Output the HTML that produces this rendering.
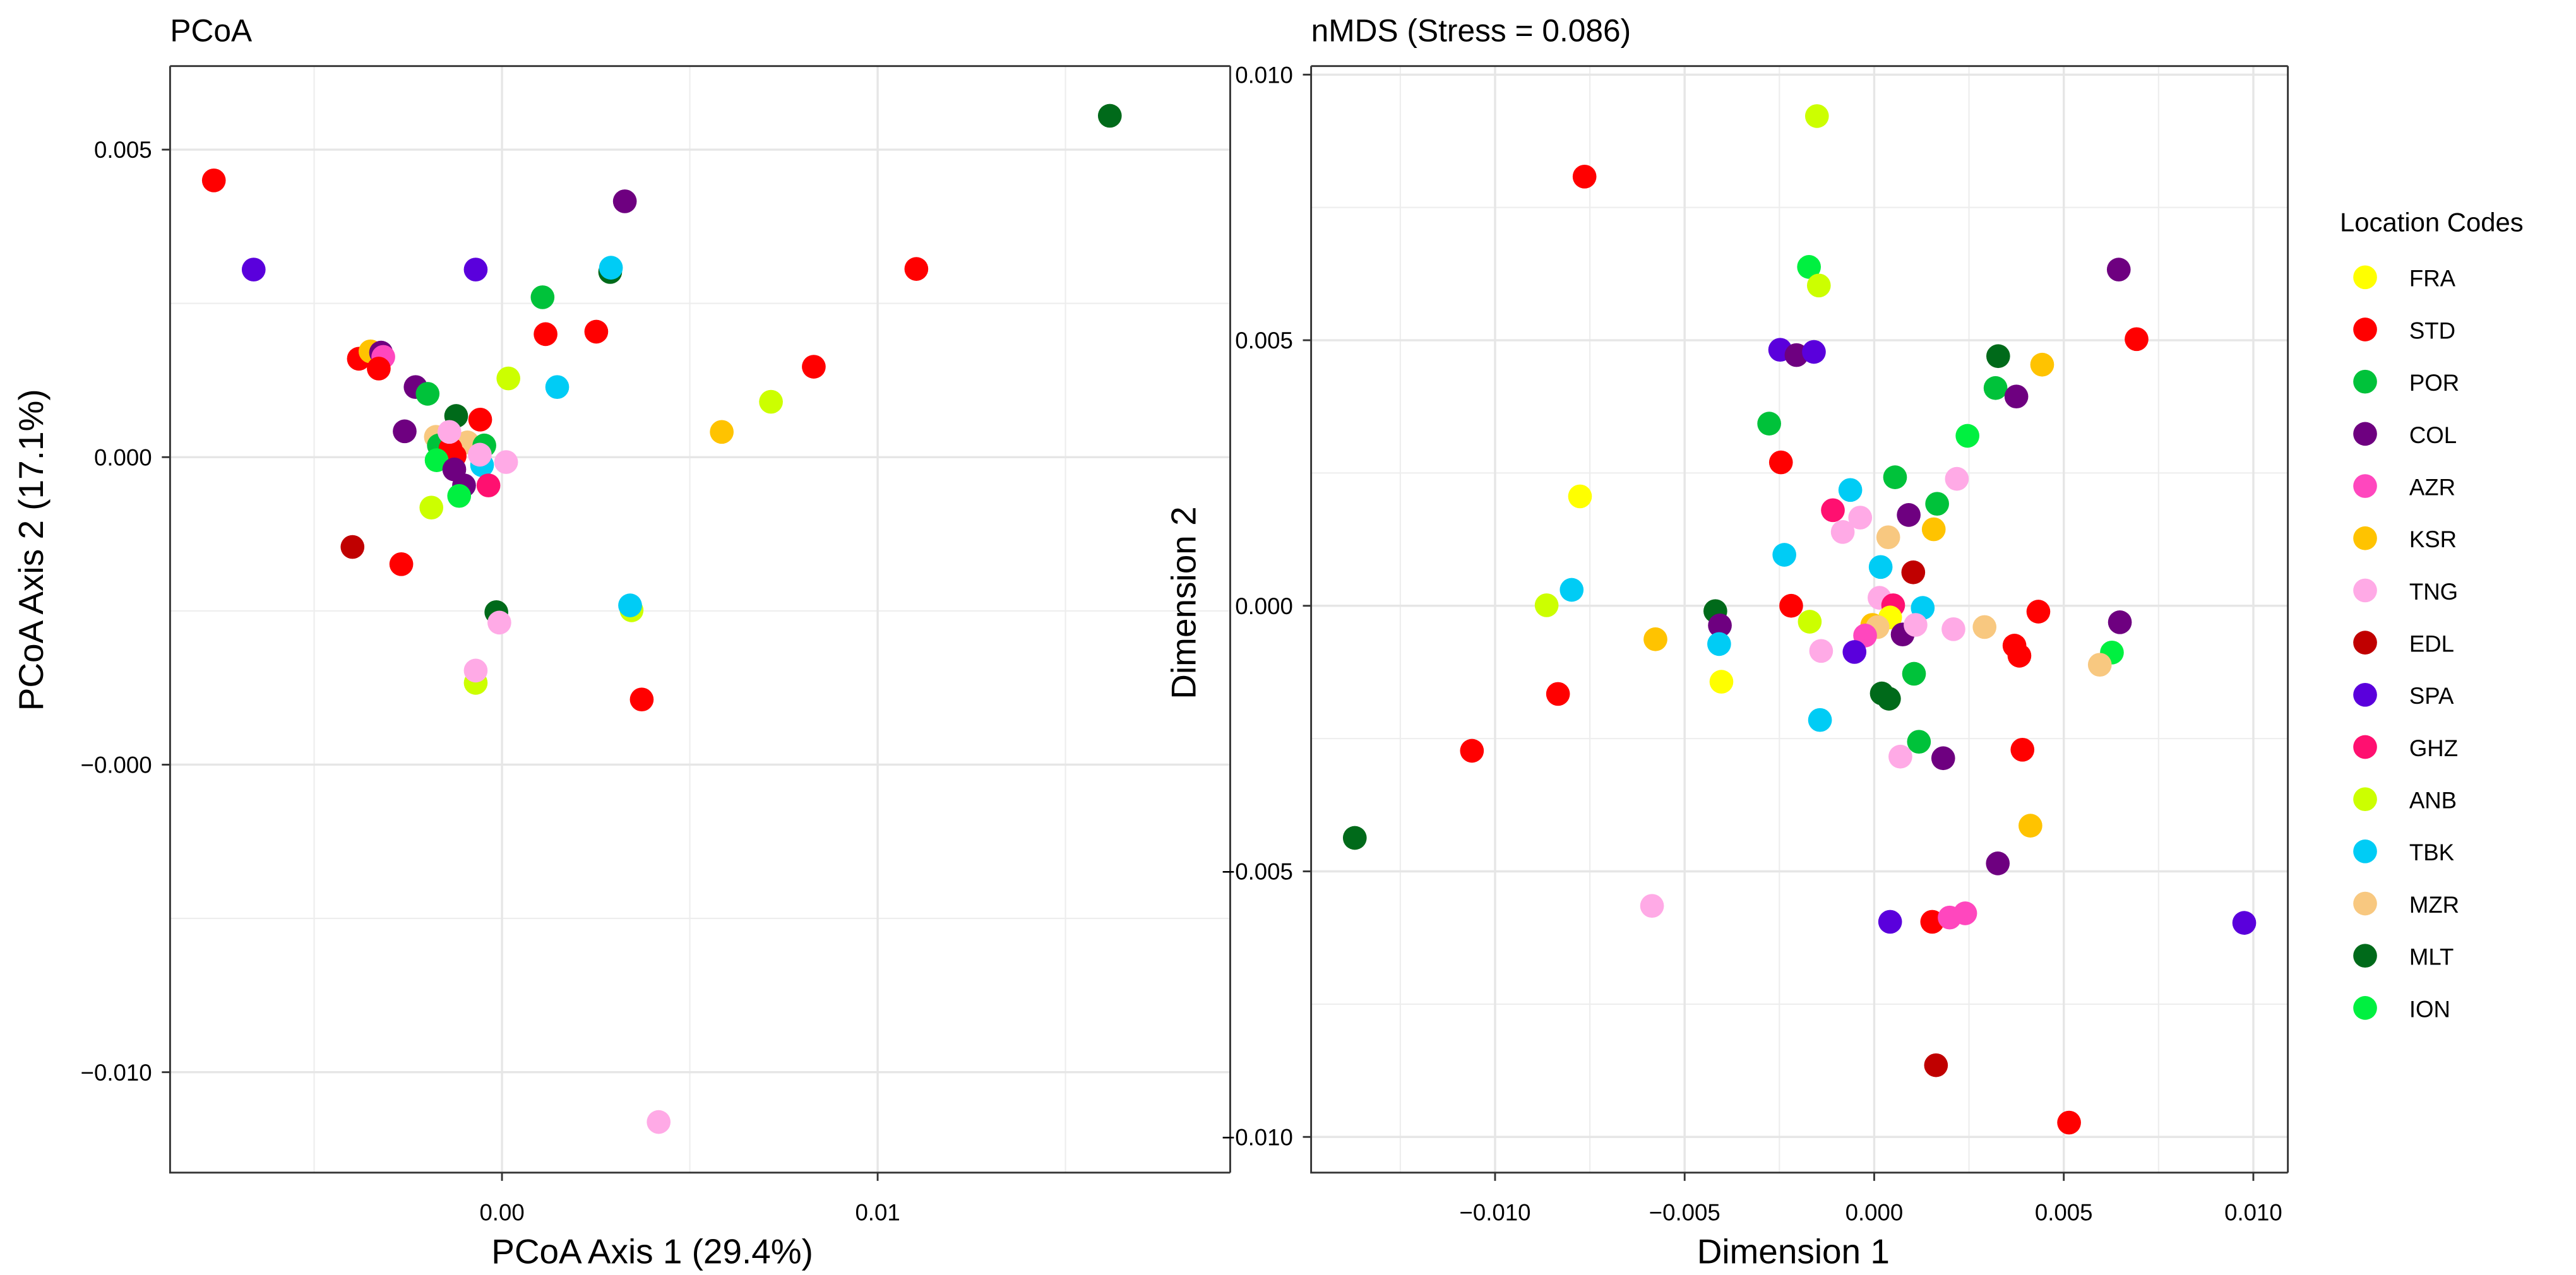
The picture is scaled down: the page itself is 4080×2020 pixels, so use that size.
<!DOCTYPE html>
<html><head><meta charset="utf-8"><style>
html,body{margin:0;padding:0;background:#fff;}
svg{display:block;}
text{font-family:"Liberation Sans",sans-serif;fill:#000;}
</style></head><body>
<svg id="chart" width="4080" height="2020" viewBox="0 0 1560 772" preserveAspectRatio="none" xmlns="http://www.w3.org/2000/svg">
<rect x="0" y="0" width="1560" height="772" fill="#fff"/>
<g id="pcoa"></g>
<g id="nmds"></g>
<g id="legend"></g>
</svg>
<script>
// ---- data ----
const groups = ["FRA","STD","POR","COL","AZR","KSR","TNG","EDL","SPA","GHZ","ANB","TBK","MZR","MLT","ION"];
const groupColors = ["#FFFF00","#FF0000","#00C23A","#6E0080","#FF47BE","#FFC300","#FFAAE6","#C00000","#5A00DC","#FF1070","#CCFF00","#00CCF5","#F8C880","#006A1A","#00F040"];

const pcoaGroup = ["STD","SPA","SPA","COL","MLT","TBK","STD","MLT","POR","STD","STD","STD","KSR","COL","AZR","STD","COL","POR","ANB","TBK","STD","ANB","KSR","MLT","STD","COL","MZR","POR","MZR","POR","STD","STD","ION","COL","TBK","TNG","TNG","TNG","COL","ION","GHZ","ANB","EDL","STD","MLT","TNG","ANB","TBK","ANB","TNG","STD","TNG"];
const pcoaX = [-0.00767,-0.00661,-0.00070,0.00327,0.00288,0.00290,0.01103,0.01618,0.00108,0.00116,0.00251,-0.00381,-0.00350,-0.00322,-0.00316,-0.00328,-0.00230,-0.00198,0.00017,0.00147,0.00830,0.00716,0.00585,-0.00122,-0.00058,-0.00259,-0.00176,-0.00168,-0.00092,-0.00047,-0.00137,-0.00126,-0.00174,-0.00127,-0.00053,-0.00140,-0.00059,0.00011,-0.00101,-0.00114,-0.00036,-0.00188,-0.00398,-0.00268,-0.00015,-0.00007,0.00345,0.00341,-0.00070,-0.00070,0.00372,0.00417];
const pcoaY = [0.00450,0.00305,0.00305,0.00416,0.00301,0.00308,0.00306,0.00555,0.00260,0.00200,0.00204,0.00160,0.00172,0.00170,0.00163,0.00144,0.00114,0.00103,0.00128,0.00114,0.00147,0.00090,0.00041,0.00067,0.00061,0.00042,0.00033,0.00019,0.00024,0.00019,0.00014,0.00002,-0.00005,-0.00020,-0.00013,0.00041,0.00004,-0.00008,-0.00046,-0.00063,-0.00046,-0.00082,-0.00146,-0.00174,-0.00252,-0.00269,-0.00249,-0.00241,-0.00367,-0.00347,-0.00394,-0.01081];

const nmdsGroup = ["ANB","STD","ION","ANB","SPA","COL","SPA","MLT","KSR","POR","COL","POR","ION","STD","POR","TBK","FRA","TNG","GHZ","TNG","COL","POR","TNG","KSR","MZR","TBK","TBK","EDL","TBK","ANB","TNG","GHZ","TBK","STD","MLT","COL","ANB","FRA","KSR","MZR","AZR","COL","TNG","TNG","MZR","STD","STD","STD","TNG","SPA","POR","MLT","MLT","TBK","KSR","TBK","FRA","STD","STD","POR","TNG","COL","STD","KSR","MLT","COL","TNG","SPA","STD","AZR","AZR","EDL","STD","COL","STD","COL","ION","MZR","SPA"];
const nmdsX = [-0.00151,-0.00764,-0.00172,-0.00146,-0.00248,-0.00205,-0.00159,0.00327,0.00443,0.00320,0.00375,-0.00277,0.00246,-0.00246,0.00055,-0.00063,-0.00776,0.00218,-0.00109,-0.00037,0.00091,0.00166,-0.00083,0.00157,0.00037,-0.00237,0.00017,0.00103,-0.00798,-0.00864,0.00014,0.00050,0.00128,-0.00219,-0.00419,-0.00407,-0.00170,0.00042,-0.00005,0.00009,-0.00024,0.00075,0.00109,0.00209,0.00291,0.00433,0.00370,0.00383,-0.00140,-0.00052,0.00105,0.00020,0.00039,-0.00143,-0.00577,-0.00409,-0.00403,-0.00834,-0.01061,0.00118,0.00069,0.00182,0.00391,0.00412,-0.01370,0.00326,-0.00586,0.00042,0.00153,0.00199,0.00240,0.00163,0.00514,0.00645,0.00692,0.00648,0.00627,0.00595,0.00976];
const nmdsY = [0.00922,0.00808,0.00638,0.00603,0.00482,0.00472,0.00478,0.00470,0.00454,0.00410,0.00394,0.00343,0.00320,0.00270,0.00242,0.00218,0.00206,0.00239,0.00180,0.00166,0.00171,0.00192,0.00139,0.00144,0.00129,0.00096,0.00073,0.00063,0.00030,0.00001,0.00015,0.00001,-0.00004,0.00000,-0.00010,-0.00037,-0.00030,-0.00022,-0.00036,-0.00040,-0.00056,-0.00054,-0.00036,-0.00044,-0.00040,-0.00011,-0.00075,-0.00094,-0.00085,-0.00087,-0.00128,-0.00165,-0.00175,-0.00215,-0.00063,-0.00072,-0.00143,-0.00166,-0.00273,-0.00256,-0.00284,-0.00287,-0.00271,-0.00414,-0.00437,-0.00485,-0.00565,-0.00595,-0.00595,-0.00587,-0.00579,-0.00865,-0.00973,0.00633,0.00502,-0.00031,-0.00088,-0.00111,-0.00597];

const pcoaXTicks = [0, 0.01];
const pcoaXTickLabels = ["0.00","0.01"];
const pcoaXMinor = [-0.005, 0.005, 0.015];
const pcoaYTicks = [0.005, 0, -0.005, -0.01];
const pcoaYTickLabels = ["0.005","0.000","\u22120.000","\u22120.010"];
const pcoaYMinor = [0.0025, -0.0025, -0.0075];

const nmdsXTicks = [-0.01,-0.005,0,0.005,0.01];
const nmdsXTickLabels = ["\u22120.010","\u22120.005","0.000","0.005","0.010"];
const nmdsXMinor = [-0.0125,-0.0075,-0.0025,0.0025,0.0075];
const nmdsYTicks = [0.01,0.005,0,-0.005,-0.01];
const nmdsYTickLabels = ["0.010","0.005","0.000","\u22120.005","\u22120.010"];
const nmdsYMinor = [0.0075,0.0025,-0.0025,-0.0075];

// ---- helpers ----
const NS = "http://www.w3.org/2000/svg";
function mk(tag, attrs, parent){const e=document.createElementNS(NS,tag);for(const k in attrs)e.setAttribute(k,attrs[k]);parent.appendChild(e);return e;}
function colorOf(g){return groupColors[groups.indexOf(g)];}

function drawPanel(root, cfg){
  const {L,R,T,B,x0px,xPerUnit,y0px,yPerUnit} = cfg;
  const sx = v => x0px + v*xPerUnit;
  const sy = v => y0px - v*yPerUnit;
  const clipId = cfg.id+"-clip";
  const defs = mk("defs",{},root);
  const cp = mk("clipPath",{id:clipId},defs);
  mk("rect",{x:L,y:T,width:R-L,height:B-T},cp);
  const grid = mk("g",{"clip-path":"url(#"+clipId+")"},root);
  
  
  cfg.xMinor.forEach(v=>{mk("line",{x1:sx(v),x2:sx(v),y1:T,y2:B,stroke:"#EDEDED","stroke-width":0.8},grid);});
  cfg.yMinor.forEach(v=>{mk("line",{y1:sy(v),y2:sy(v),x1:L,x2:R,stroke:"#EDEDED","stroke-width":0.8},grid);});
  cfg.xTicks.forEach(v=>{mk("line",{x1:sx(v),x2:sx(v),y1:T,y2:B,stroke:"#E6E6E6","stroke-width":1.3},grid);});
  cfg.yTicks.forEach(v=>{mk("line",{y1:sy(v),y2:sy(v),x1:L,x2:R,stroke:"#E6E6E6","stroke-width":1.3},grid);});
  // points
  const pts = mk("g",{"clip-path":"url(#"+clipId+")"},root);
  
  
  for(let i=0;i<cfg.xs.length;i++){
    const c = mk("circle",{cx:sx(cfg.xs[i]),cy:sy(cfg.ys[i]),r:7.2,fill:colorOf(cfg.gs[i])},pts);
    
    
  }
  // frame
  const fr = mk("path",{d:"M"+L+" "+T+" V"+B+" H"+R,fill:"none",stroke:"#333","stroke-width":1.1},root);
  
  
  mk("line",{x1:L,x2:R,y1:T,y2:T,stroke:"#333","stroke-width":1.1},root);
  mk("line",{x1:R,x2:R,y1:T,y2:B,stroke:"#333","stroke-width":1.1},root);
  // x ticks
  cfg.xTicks.forEach((v,i)=>{
    mk("line",{x1:sx(v),x2:sx(v),y1:B,y2:B+5,stroke:"#333","stroke-width":1.1},root);
    const t = mk("text",{x:sx(v),y:739,"text-anchor":"middle","font-size":14},root);
    t.textContent = cfg.xTickLabels[i];
    
    
  });
  cfg.yTicks.forEach((v,i)=>{
    mk("line",{x1:L-5,x2:L,y1:sy(v),y2:sy(v),stroke:"#333","stroke-width":1.1},root);
    const t = mk("text",{x:L-11,y:sy(v)+5,"text-anchor":"end","font-size":14},root);
    t.textContent = cfg.yTickLabels[i];
    
    
  });
  const title = mk("text",{x:L,y:25,"font-size":19},root);
  title.textContent = cfg.title;
  
  
  const xt = mk("text",{x:cfg.xTitleX,y:765,"text-anchor":"middle","font-size":21},root);
  xt.textContent = cfg.xTitle;
  
  
  const yt = mk("text",{x:0,y:0,"text-anchor":"middle","font-size":21,transform:"translate("+cfg.yTitleX+","+cfg.yTitleY+") rotate(-90)"},root);
  yt.textContent = cfg.yTitle;
  
  
}

drawPanel(document.getElementById("pcoa"),{
  id:"pcoa",L:103,R:745,T:40,B:710,x0px:304,xPerUnit:22750,y0px:276.8,yPerUnit:37240,
  xs:pcoaX,ys:pcoaY,gs:pcoaGroup,
  xTicks:pcoaXTicks,xTickLabels:pcoaXTickLabels,xMinor:pcoaXMinor,
  yTicks:pcoaYTicks,yTickLabels:pcoaYTickLabels,yMinor:pcoaYMinor,
  title:"PCoA",xTitle:"PCoA Axis 1 (29.4%)",xTitleX:395,yTitle:"PCoA Axis 2 (17.1%)",yTitleX:26,yTitleY:333
});
drawPanel(document.getElementById("nmds"),{
  id:"nmds",L:794,R:1385.5,T:40,B:710,x0px:1135,xPerUnit:22960,y0px:366.8,yPerUnit:32160,
  xs:nmdsX,ys:nmdsY,gs:nmdsGroup,
  xTicks:nmdsXTicks,xTickLabels:nmdsXTickLabels,xMinor:nmdsXMinor,
  yTicks:nmdsYTicks,yTickLabels:nmdsYTickLabels,yMinor:nmdsYMinor,
  title:"nMDS (Stress = 0.086)",xTitle:"Dimension 1",xTitleX:1086,yTitle:"Dimension 2",yTitleX:724,yTitleY:365
});

// legend
const lg = document.getElementById("legend");
const lt = mk("text",{x:1417,y:140,"font-size":16},lg);
lt.textContent = "Location Codes";


groups.forEach((g,i)=>{
  const y = 167.9 + i*31.6;
  const e = mk("g",{},lg);
  
  
  mk("circle",{cx:1432.3,cy:y,r:7.2,fill:groupColors[i]},e);
  const t = mk("text",{x:1459,y:y+5.5,"font-size":14},e);
  t.textContent = g;
});
</script>
</body></html>
